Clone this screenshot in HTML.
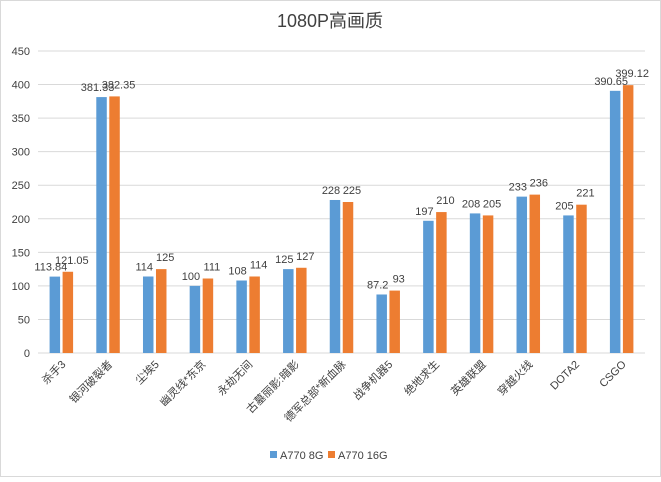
<!DOCTYPE html>
<html><head><meta charset="utf-8"><style>
body{margin:0;background:#fff}
svg text{font-family:"Liberation Sans","Noto Sans CJK SC",sans-serif;fill:#404040}
</style></head><body>
<svg width="661" height="477">
<rect x="0.5" y="0.5" width="660" height="476" fill="#fff" stroke="#d9d9d9"/>
<text x="330" y="27" font-size="18" text-anchor="middle">1080P高画质</text>
<g id="grid"></g><g id="bars"></g><g id="xl"></g>
<g>
<rect x="270" y="451" width="7" height="7" fill="#5b9bd5"/>
<text x="280" y="459" font-size="11">A770 8G</text>
<rect x="328" y="451" width="7" height="7" fill="#ed7d31"/>
<text x="338" y="459" font-size="11">A770 16G</text>
</g>
</svg>
<script>
const categories=["杀手3","银河破裂者","尘埃5","幽灵线*东京","永劫无间","古墓丽影:暗影","德军总部*新血脉","战争机器5","绝地求生","英雄联盟","穿越火线","DOTA2","CSGO"];
const series8g=[113.84,381.33,114,100,108,125,228,87.2,197,208,233,205,390.65];
const series16g=[121.05,382.35,125,111,114,127,225,93,210,205,236,221,399.12];
const yTicks=[0,50,100,150,200,250,300,350,400,450];
const NS="http://www.w3.org/2000/svg";
const L=38,R=645,T=51,B=353,maxV=450;
const y=v=>B-(v/maxV)*(B-T);
const step=(R-L)/categories.length;
const cx=i=>L+step*(i+0.5);
function mk(tag,attrs,parent){const e=document.createElementNS(NS,tag);for(const k in attrs)e.setAttribute(k,attrs[k]);parent.appendChild(e);return e;}
const g=document.getElementById('grid'),b=document.getElementById('bars'),xl=document.getElementById('xl');
yTicks.forEach(t=>{
 const ln=mk('line',{x1:L,x2:R,y1:y(t),y2:y(t),stroke:'#d9d9d9','stroke-width':1},g);
 
 
 const tx=mk('text',{x:30,y:y(t)+4,'font-size':11,'text-anchor':'end'},g);
 tx.textContent=t;
 
 
});
const bw=10.5,gap=2.5;
categories.forEach((c,i)=>{
 [[series8g,'#5b9bd5',-1,'8g'],[series16g,'#ed7d31',1,'16g']].forEach(([s,col,side,nm])=>{
  const v=s[i];
  const x=side<0?cx(i)-gap/2-bw:cx(i)+gap/2;
  const r=mk('rect',{x:x,y:y(v),width:bw,height:B-y(v),fill:col},b);
  
  
  const t=mk('text',{x:x+bw/2+side*4,y:y(v)-(side>0?8:6),'font-size':11,'text-anchor':'middle'},b);
  t.textContent=v;
  
  
 });
 const t=mk('text',{transform:`translate(${cx(i)+5},${B+12}) rotate(-45)`,'font-size':11,'text-anchor':'end'},xl);
 t.textContent=c;
 
 
});
</script>
</body></html>
